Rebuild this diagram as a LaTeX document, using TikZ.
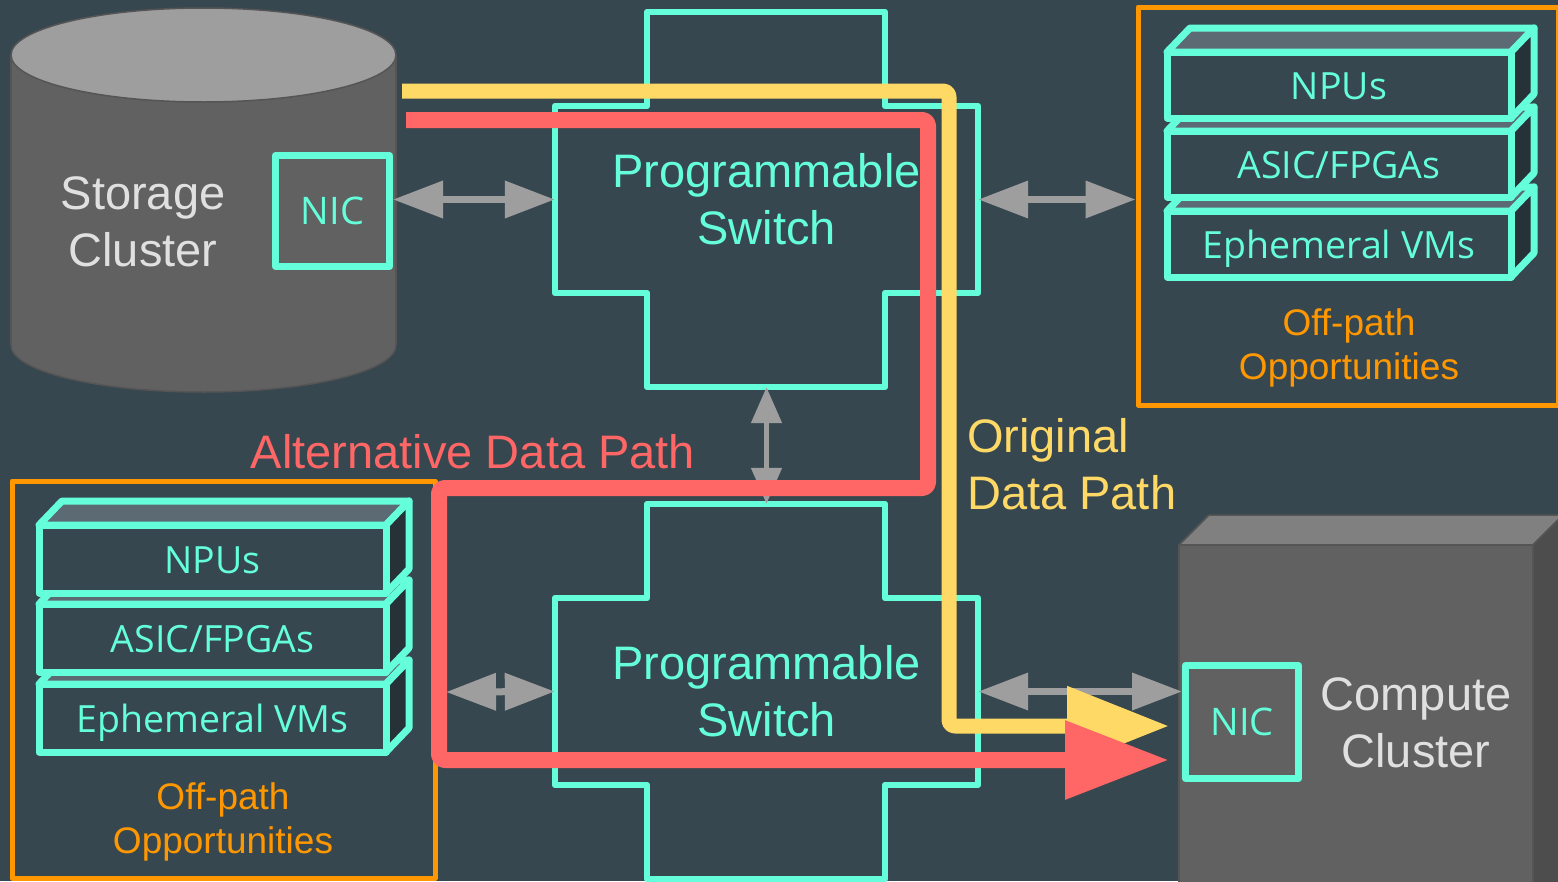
\documentclass[tikz,border=0pt]{standalone}
\usepackage{fontspec}
\setmainfont{Liberation Sans}
\newfontfamily\opensans{Open Sans}
\usetikzlibrary{arrows.meta}
\definecolor{slate}{HTML}{37474F}
\definecolor{aqua}{HTML}{64FFDA}
\definecolor{offorange}{HTML}{FF9800}
\definecolor{origyellow}{HTML}{FFD966}
\definecolor{altred}{HTML}{FF6666}
\definecolor{arrowgray}{HTML}{9E9E9E}
\definecolor{hostbody}{HTML}{616161}
\definecolor{hosttop}{HTML}{9E9E9E}
\definecolor{cubetop}{HTML}{808080}
\definecolor{cubeside}{HTML}{4D4D4D}
\definecolor{hostedge}{HTML}{555555}
\definecolor{labelgray}{HTML}{E0E0E0}
\definecolor{facetop}{HTML}{5C6B73}
\definecolor{faceside}{HTML}{263238}

\begin{document}
\begin{tikzpicture}[x=1pt,y=-1pt,line join=round,
  bigfont/.style={font=\fontsize{47}{57}\selectfont},
  nicbox/.style={draw=aqua,line width=7pt,fill=hostbody,text=aqua,
    font=\opensans\fontsize{38}{45}\selectfont},
  unitbox/.style={draw=aqua,line width=7pt,fill=slate,text=aqua,
    text height=31pt,text depth=3pt,
    font=\opensans\fontsize{37.5}{45}\selectfont},
  topface/.style={draw=aqua,line width=7pt,fill=facetop},
  sideface/.style={draw=aqua,line width=7pt,fill=faceside},
  offbox/.style={draw=offorange,line width=5pt},
  offlabel/.style={text=offorange,align=center,font=\fontsize{37}{44}\selectfont},
  swline/.style={draw=aqua,line width=6.5pt},
  grayarrow/.style={draw=arrowgray,line width=7pt,
    arrows={Triangle[length=50pt,width=36pt]-Triangle[length=50pt,width=36pt]}},
  smallheads/.style={line width=5pt,
    arrows={Triangle[length=36pt,width=30pt]-Triangle[length=36pt,width=30pt]}},
  origpath/.style={draw=origyellow,line width=15pt,rounded corners=6pt,
    -{Triangle[length=102pt,width=76pt]}},
  altpath/.style={draw=altred,line width=16pt,rounded corners=6pt,
    -{Triangle[length=104pt,width=75pt]}}]
\useasboundingbox (0,0) rectangle (1558,881);
\fill[slate] (0,0) rectangle (1558,881);
% storage cylinder
\filldraw[fill=hostbody,draw=hostedge,line width=1.5pt] (203.5,345) ellipse [x radius=192.5pt,y radius=47pt];
\fill[hostbody] (11,55) rectangle (396,345);
\draw[hostedge,line width=1.5pt] (11,55) -- (11,345) (396,55) -- (396,345);
\filldraw[fill=hosttop,draw=hostedge,line width=1.5pt] (203.5,55) ellipse [x radius=192.5pt,y radius=47pt];
\node[text=labelgray,align=center,bigfont] (storeLbl) at (143,222) {Storage\\Cluster};
\node[nicbox,minimum width=114pt,minimum height=111pt] (nicS) at (332.5,211) {NIC};
% compute box
\fill[hostbody] (1179,545) rectangle (1533,900);
\filldraw[fill=cubetop,draw=hostedge,line width=1.5pt] (1179,545) -- (1209,515) -- (1563,515) -- (1533,545) -- cycle;
\filldraw[fill=cubeside,draw=hostedge,line width=1.5pt] (1533,545) -- (1563,515) -- (1563,900) -- (1533,900) -- cycle;
\draw[hostedge,line width=1.5pt] (1179,900) -- (1179,545) -- (1533,545) -- (1533,900);
\node[text=labelgray,align=center,bigfont] (computeLbl) at (1416,723) {Compute\\Cluster};
\node[nicbox,minimum width=113pt,minimum height=113pt] (nicC) at (1242,722) {NIC};
% switches
\foreach \dy/\nm in {0/swA,492/swB}{
  \draw[swline,shift={(0,\dy)}] (647,12) -| (885,106) -| (978,293) -| (885,387)
    -| (647,293) -| (555,106) -| (647,12) -- cycle;
  \node[text=aqua,align=center,bigfont,inner sep=0pt,minimum width=423pt,
    minimum height=375pt] (\nm) at (766.5,199.5+\dy) {Programmable\\Switch};
}
% off-path boxes
\node[offbox,minimum width=420pt,minimum height=398pt] (offR) at (1348,206) {};
\node[offlabel] (offRlbl) at (1349,348) {Off-path\\Opportunities};
\node[offbox,minimum width=423pt,minimum height=397pt] (offL) at (223.5,679.5) {};
\node[offlabel] (offLlbl) at (223,822) {Off-path\\Opportunities};
\foreach \yy/\nm/\txt in {244/vmR/{Ephemeral VMs},164/asicR/{ASIC/FPGAs},85/npuR/NPUs}{
  \filldraw[topface] (1167,\yy-33) -- ++(23,-24) -- ++(344,0) -- ++(-23,24) -- cycle;
  \filldraw[sideface] (1511,\yy-33) -- ++(23,-24) -- ++(0,66) -- ++(-23,24) -- cycle;
  \node[unitbox,minimum width=344pt,minimum height=66pt] (\nm) at (1339,\yy) {\txt};
}
\foreach \yy/\nm/\txt in {718/vmL/{Ephemeral VMs},638/asicL/{ASIC/FPGAs},559/npuL/NPUs}{
  \filldraw[topface] (39,\yy-34) -- ++(23,-24) -- ++(347,0) -- ++(-23,24) -- cycle;
  \filldraw[sideface] (386,\yy-34) -- ++(23,-24) -- ++(0,68) -- ++(-23,24) -- cycle;
  \node[unitbox,minimum width=347pt,minimum height=68pt] (\nm) at (212.5,\yy) {\txt};
}
% links
\coordinate (offLport) at (446,692);
\draw[grayarrow] (nicS.east |- swA.west) -- (swA.west);
\draw[grayarrow] (swA.east) -- (offR.west |- swA.east);
\draw[grayarrow,smallheads] (swA.south) -- (swB.north);
\draw[grayarrow] (offLport) -- (swB.west);
\draw[grayarrow] (swB.east) -- (nicC.west |- swB.east);
% data paths
\coordinate (yIn) at (402,91);
\coordinate (yDrop) at (949,726);
\coordinate (yOut) at (1169,726);
\draw[origpath] (yIn) -| (yDrop) -- (yOut);
\coordinate (rIn) at (406,120);
\coordinate (rTurn) at (928,488);
\coordinate (rDrop) at (439,760);
\coordinate (rOut) at (1169,760);
\draw[altpath] (rIn) -| (rTurn) -| (rDrop) -- (rOut);
\node[text=altred,bigfont] (altLbl) at (473,452) {Alternative Data Path};
\node[text=origyellow,bigfont,align=left,anchor=west,inner sep=0pt] (origLbl) at (967,464) {Original\\Data Path};
\end{tikzpicture}
\end{document}
